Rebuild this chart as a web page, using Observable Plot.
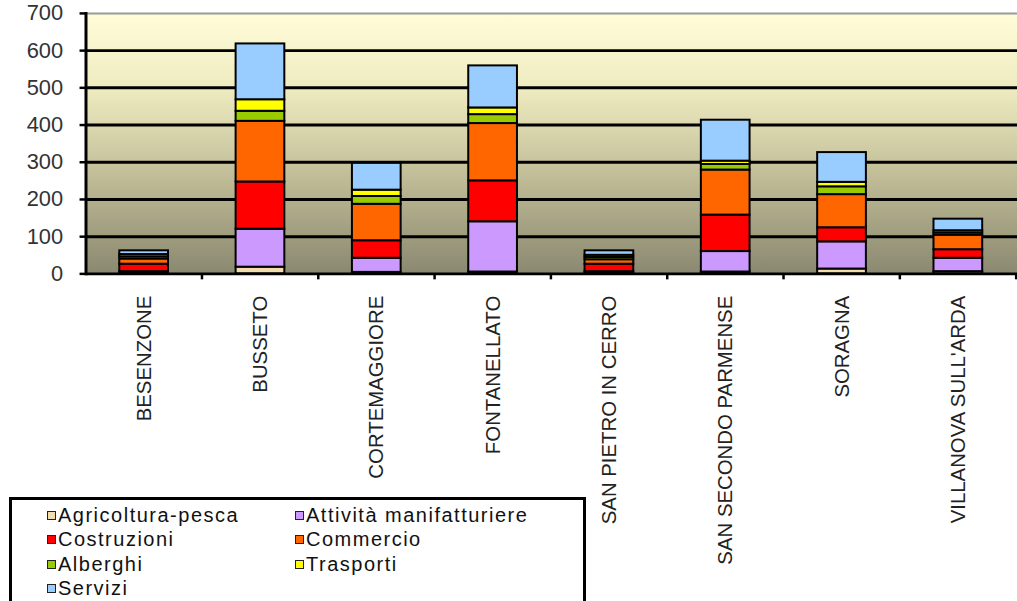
<!DOCTYPE html>
<html>
<head>
<meta charset="utf-8">
<script src="https://cdn.jsdelivr.net/npm/d3@7"></script>
<script src="https://cdn.jsdelivr.net/npm/@observablehq/plot@0.6"></script>
<style>
  html, body { margin: 0; padding: 0; background: #fff; overflow: hidden; }
  body { width: 1017px; height: 601px; position: relative; font-family: "Liberation Sans", Arial, sans-serif; }
  #legend {
    position: absolute; left: 9px; top: 497px; width: 577px; height: 130px;
    border: 3px solid #000; background: #fff; box-sizing: border-box;
    display: grid; grid-template-columns: 248px 300px; grid-auto-rows: 24.5px;
    padding: 3px 0 0 35px; font-size: 20px; letter-spacing: 1.5px; color: #111;
  }
  #legend .item { display: flex; align-items: center; white-space: nowrap; }
  #legend .sw { width: 7px; height: 7px; border: 1.5px solid #222; margin-right: 2px; flex: none; }
</style>
</head>
<body>
<div id="chart"></div>
<div id="legend"></div>
<script>
const categories = ["BESENZONE", "BUSSETO", "CORTEMAGGIORE", "FONTANELLATO", "SAN PIETRO IN CERRO", "SAN SECONDO PARMENSE", "SORAGNA", "VILLANOVA SULL'ARDA"];
const sectors = ["Agricoltura-pesca", "Attività manifatturiere", "Costruzioni", "Commercio", "Alberghi", "Trasporti", "Servizi"];
const sectorColors = ["#f3dcae", "#cc99ff", "#ff0000", "#ff6600", "#99cc00", "#ffff00", "#99ccff"];
const agricoltura    = [2, 18, 4, 5, 2, 5, 13, 6];
const manifatturiere = [4, 102, 38, 135, 4, 55, 73, 36];
const costruzioni    = [20, 127, 47, 110, 20, 98, 38, 23];
const commercio      = [14, 163, 98, 154, 12, 121, 89, 39];
const alberghi       = [6, 27, 21, 24, 6, 15, 21, 6];
const trasporti      = [6, 31, 17, 18, 6, 9, 12, 6];
const servizi        = [10, 150, 72, 113, 12, 110, 80, 31];
const yTicks = [0, 100, 200, 300, 400, 500, 600, 700];
const gridTicks = [100, 200, 300, 400, 500, 600];

const series = [agricoltura, manifatturiere, costruzioni, commercio, alberghi, trasporti, servizi];
const data = [];
series.forEach((vals, s) => vals.forEach((v, i) => data.push({comune: categories[i], settore: sectors[s], valore: v})));

const W = 1023, H = 601, ML = 86, MR = 0, MT = 13, MB = 326;
const PAD_IN = 0.58, PAD_OUT = 0.29;
const step = (W - ML - MR) / categories.length;

const bgDefs = () => {
  const defs = d3.create("svg:defs");
  const g = defs.append("linearGradient").attr("id", "bgGrad").attr("x1", 0).attr("y1", 0).attr("x2", 0).attr("y2", 1);
  [["0%", "#fffdd9"], ["30%", "#eeeabf"], ["65%", "#bdb994"], ["100%", "#8a8870"]]
    .forEach(([o, c]) => g.append("stop").attr("offset", o).attr("stop-color", c));
  return defs.node();
};

const boundaryTicks = (index, scales) => {
  const g = d3.create("svg:g");
  const y0 = scales.y(0);
  categories.forEach(c => {
    const xb = scales.x(c) + step * (1 - PAD_IN) + step * PAD_IN / 2;
    g.append("line").attr("x1", xb).attr("x2", xb).attr("y1", y0).attr("y2", y0 + 6)
      .attr("stroke", "#000").attr("stroke-width", 2.5);
  });
  return g.node();
};

const chart = Plot.plot({
  width: W, height: H,
  marginLeft: ML, marginRight: MR, marginTop: MT, marginBottom: MB,
  style: {fontFamily: "'Liberation Sans', Arial, sans-serif", background: "transparent"},
  x: {type: "band", domain: categories, paddingInner: PAD_IN, paddingOuter: PAD_OUT, label: null, axis: null},
  y: {domain: [0, 700], label: null, axis: null},
  color: {domain: sectors, range: sectorColors},
  marks: [
    bgDefs,
    Plot.frame({fill: "url(#bgGrad)", stroke: null}),
    Plot.ruleY(gridTicks, {stroke: "#000", strokeWidth: 3}),
    Plot.ruleY([700], {stroke: "#9a9a9a", strokeWidth: 2}),
    Plot.barY(data, {x: "comune", y: "valore", fill: "settore", stroke: "#000", strokeWidth: 2}),
    Plot.ruleY([0], {stroke: "#000", strokeWidth: 3}),
    Plot.frame({anchor: "left", stroke: "#000", strokeWidth: 3}),
    boundaryTicks,
    Plot.axisY({ticks: yTicks, tickSize: 6, tickPadding: 17, fontSize: 22, strokeWidth: 2.5, stroke: "#000", color: "#333", tickFormat: d => String(d)}),
    Plot.axisX({tickRotate: -90, tickSize: 0, tickPadding: 22, fontSize: 20.5, color: "#222"})
  ]
});
document.getElementById("chart").appendChild(chart);

const colorScale = chart.scale("color");
const legend = document.getElementById("legend");
sectors.forEach(name => {
  const item = document.createElement("div");
  item.className = "item";
  const sw = document.createElement("span");
  sw.className = "sw";
  sw.style.background = colorScale.apply(name);
  const t = document.createElement("span");
  t.textContent = name;
  item.appendChild(sw); item.appendChild(t);
  legend.appendChild(item);
});
</script>
</body>
</html>
